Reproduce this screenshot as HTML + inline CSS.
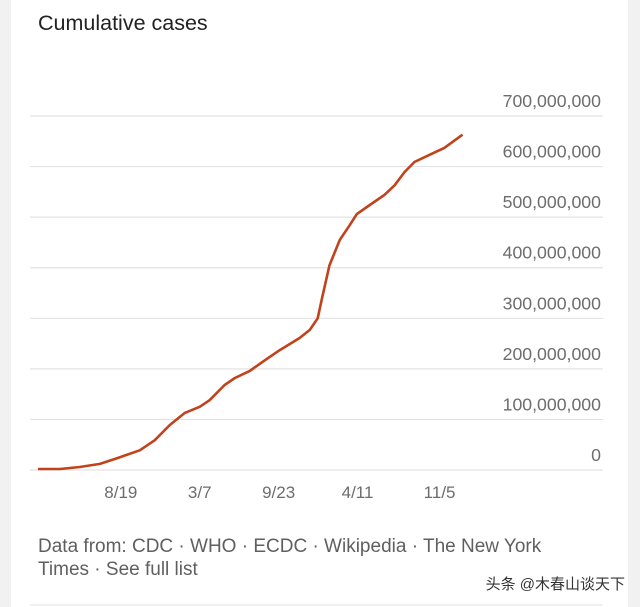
<!DOCTYPE html>
<html><head><meta charset="utf-8"><style>
body{margin:0;width:640px;height:607px;background:#f1f1f1;font-family:"Liberation Sans","Noto Sans CJK SC",sans-serif;overflow:hidden}
#card{position:absolute;left:11px;top:0;width:617px;height:607px;background:#fff}
</style></head><body>
<div id="card"></div>
<svg id="chart" width="640" height="607" style="position:absolute;left:0;top:0">
<text x="38" y="30" font-size="21.5" fill="#222">Cumulative cases</text>
<g id="grid"></g><g id="xt"></g>
<path id="line" fill="none" stroke="#c1421b" stroke-width="2.6" stroke-linejoin="round"/>
<text x="38" y="552" font-size="19" fill="#5f5f5f">Data from: CDC · WHO · ECDC · Wikipedia · The New York</text>
<text x="38" y="575" font-size="19" fill="#5f5f5f">Times · See full list</text>
<text x="625" y="589" font-size="15" fill="#333" text-anchor="end">头条 @木春山谈天下</text>
<line x1="30" x2="603" y1="605" y2="605" stroke="#e0e0e0"/>
</svg>
<script>
const days=[0,56,106,157,203,258,296,334,372,410,435,473,499,537,575,613,663,689,709,719,739,765,790,808,841,878,904,929,954,992,1030,1076];
const casesM=[2,2,6,12,24,39,59,89,113,125,138,168,182,196,217,237,261,277,300,336,405,455,484,506,524,544,563,589,609,623,637,663];
const yTicks=[0,100,200,300,400,500,600,700];
const yTickLabels=["0","100,000,000","200,000,000","300,000,000","400,000,000","500,000,000","600,000,000","700,000,000"];
const xTickDays=[210,410,610,810,1018];
const xTickLabels=["8/19","3/7","9/23","4/11","11/5"];
const X=d=>38+d*0.3945, Y=v=>470-v*0.5057;
const ns="http://www.w3.org/2000/svg";
const g=document.getElementById('grid'), xt=document.getElementById('xt');
yTicks.forEach((v,i)=>{
 const l=document.createElementNS(ns,'line');
 l.setAttribute('x1',30);l.setAttribute('x2',603);l.setAttribute('y1',Y(v));l.setAttribute('y2',Y(v));
 l.setAttribute('stroke','#e3e3e3');l.setAttribute('stroke-width','1.2');
 
 
 g.appendChild(l);
 const t=document.createElementNS(ns,'text');
 t.setAttribute('x',601);t.setAttribute('y',Y(v)-9);t.setAttribute('text-anchor','end');
 t.setAttribute('font-size','17.7');t.setAttribute('fill','#6d6d6d');t.textContent=yTickLabels[i];
 
 
 g.appendChild(t);
});
xTickDays.forEach((d,i)=>{
 const t=document.createElementNS(ns,'text');
 t.setAttribute('x',X(d));t.setAttribute('y',498);t.setAttribute('text-anchor','middle');
 t.setAttribute('font-size','17');t.setAttribute('fill','#6d6d6d');t.textContent=xTickLabels[i];
 
 
 xt.appendChild(t);
});
document.getElementById('line').setAttribute('d',days.map((d,i)=>(i?'L':'M')+X(d).toFixed(1)+','+Y(casesM[i]).toFixed(1)).join(''));
</script>
</body></html>
